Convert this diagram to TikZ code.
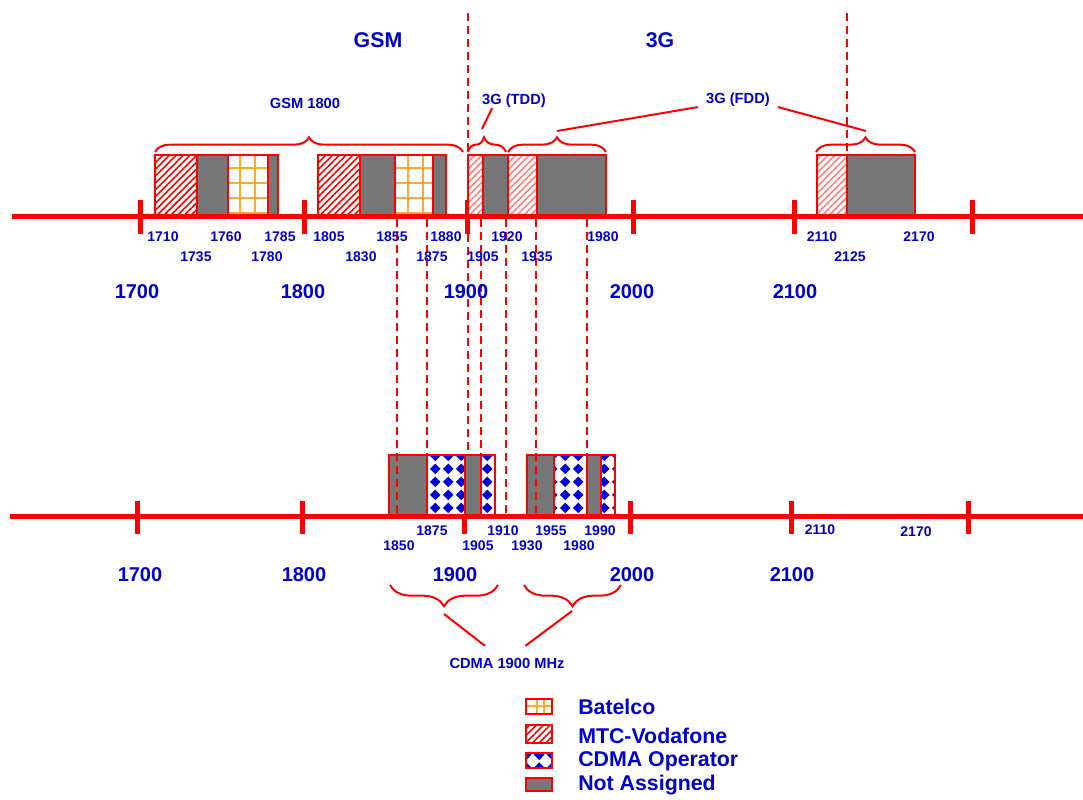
\documentclass[tikz,border=0pt]{standalone}
\usepackage{fontspec}
\setmainfont{Liberation Sans}
\usetikzlibrary{patterns,patterns.meta,decorations.pathreplacing}

\definecolor{labelblue}{RGB}{0,0,204}
\definecolor{bandgrey}{RGB}{119,119,119}
\definecolor{batelcoorange}{RGB}{255,170,40}
\definecolor{cdmablue}{RGB}{0,0,220}

\tikzdeclarepattern{
  name=cdmadiamonds,
  type=uncolored,
  bounding box={(0pt,0pt) and (9.75pt,9.75pt)},
  tile size={(9.75pt,9.75pt)},
  code={\fill (4.875pt,0.7pt) -- (9.05pt,4.875pt) -- (4.875pt,9.05pt) -- (0.7pt,4.875pt) -- cycle;}
}

\tikzset{
  bandline/.style={red, line width=3.75pt},
  tickline/.style={red, line width=3.75pt},
  boxline/.style={draw=red, line width=1.5pt},
  greybox/.style={boxline, fill=bandgrey},
  mtcbox/.style={boxline, preaction={fill=white},
    pattern={Lines[angle=45,distance=3.6pt,line width=1.2pt]}, pattern color=red},
  mtclight/.style={mtcbox, pattern color=red!50},
  cdmabox/.style={boxline, preaction={fill=white}, pattern=cdmadiamonds, pattern color=cdmablue},
  gridline/.style={batelcoorange, line width=1.5pt},
  cutline/.style={red, line width=1.4pt, dash pattern=on 6pt off 3.75pt},
  bandbrace/.style={red, line width=1.5pt, decorate, decoration={brace, amplitude=11pt}},
  leader/.style={red, line width=1.5pt},
  freqsmall/.style={text=labelblue, inner sep=0pt, font=\bfseries\fontsize{10.5}{12}\selectfont},
  freqbig/.style={text=labelblue, inner sep=0pt, font=\bfseries\fontsize{15}{18}\selectfont},
  header/.style={text=labelblue, inner sep=0pt, font=\bfseries\fontsize{16}{19}\selectfont},
  bandname/.style={text=labelblue, inner sep=0pt, font=\bfseries\fontsize{11}{13}\selectfont},
  legendtext/.style={text=labelblue, inner sep=0pt, anchor=west, font=\bfseries\fontsize{16}{19}\selectfont}
}

\begin{document}
\begin{tikzpicture}[x=0.75pt, y=-0.75pt]
  \useasboundingbox (0,0) rectangle (1083,800);

  % frequency axes
  \draw[bandline] (12,216) -- (1083,216);
  \draw[bandline] (10,516) -- (1083,516);
  \foreach \x in {140,304,467,633,794,972} \draw[tickline] (\x,200) -- (\x,234);
  \foreach \x in {137,302,464,630,791,968} \draw[tickline] (\x,501) -- (\x,534);

  % GSM 1800 band
  \draw[mtcbox] (155,155) rectangle (197,215);
  \draw[greybox] (197,155) rectangle (228,215);
  \fill[white] (228,155) rectangle (268,215);
  \foreach \x in {240,255} \draw[gridline] (\x,155) -- (\x,215);
  \foreach \y in {168,183,198,213} \draw[gridline] (228,\y) -- (268,\y);
  \draw[boxline] (228,155) rectangle (268,215);
  \draw[greybox] (268,155) rectangle (278,215);
  \draw[mtcbox] (318,155) rectangle (360,215);
  \draw[greybox] (360,155) rectangle (395,215);
  \fill[white] (395,155) rectangle (433,215);
  \foreach \x in {408,423} \draw[gridline] (\x,155) -- (\x,215);
  \foreach \y in {168,183,198,213} \draw[gridline] (395,\y) -- (433,\y);
  \draw[boxline] (395,155) rectangle (433,215);
  \draw[greybox] (433,155) rectangle (446,215);

  % 3G bands
  \draw[mtclight] (468,155) rectangle (483,215);
  \draw[greybox] (483,155) rectangle (508,215);
  \draw[mtclight] (508,155) rectangle (537,215);
  \draw[greybox] (537,155) rectangle (606,215);
  \draw[mtclight] (817,155) rectangle (847,215);
  \draw[greybox] (847,155) rectangle (915,215);

  % CDMA 1900 band
  \draw[greybox] (389,455) rectangle (427,515);
  \draw[cdmabox] (427,455) rectangle (465,515);
  \draw[greybox] (465,455) rectangle (481,515);
  \draw[cdmabox] (481,455) rectangle (495,515);
  \draw[greybox] (527,455) rectangle (554,515);
  \draw[cdmabox] (554,455) rectangle (587,515);
  \draw[greybox] (587,455) rectangle (601,515);
  \draw[cdmabox] (601,455) rectangle (615,515);

  % dashed guides
  \draw[cutline] (468,13) -- (468,455);
  \draw[cutline] (847,13) -- (847,155);
  \draw[cutline] (481,219) -- (481,455);
  \foreach \x in {397,427,506,536,587} \draw[cutline] (\x,219) -- (\x,516);

  % braces
  \draw[bandbrace] (155,152) -- (463,152);
  \draw[bandbrace, decoration={aspect=0.42}] (468,152) -- (506,152);
  \draw[bandbrace] (508,152) -- (606,152);
  \draw[bandbrace] (816,152) -- (915,152);
  \draw[bandbrace, decoration={amplitude=16pt}] (498,585) -- (390,585);
  \draw[bandbrace, decoration={amplitude=16pt}] (621,585) -- (524,585);
  \coordinate (tddtip) at (482,129);
  \coordinate (fddtipa) at (557,131);
  \coordinate (fddtipb) at (866,131);
  \coordinate (cdmatipa) at (444,614);
  \coordinate (cdmatipb) at (572,611);

  % titles
  \node[header] (gsm) at (378,40) {GSM};
  \node[header] (threeg) at (660,40) {3G};
  \node[bandname] (gsm1800) at (305,103) {GSM 1800};
  \node[bandname] (tdd) at (514,101) {3G (TDD)};
  \node[bandname, inner sep=6pt] (fdd) at (738,100) {3G (FDD)};
  \node[bandname, inner sep=8.8pt] (cdma) at (507,663) {CDMA 1900 MHz};
  \draw[leader] (tddtip) -- (tdd.198);
  \draw[leader] (fddtipa) -- (fdd.190);
  \draw[leader] (fddtipb) -- (fdd.-10);
  \draw[leader] (cdmatipa) -- (cdma.142);
  \draw[leader] (cdmatipb) -- (cdma.43);

  % frequency labels
  \foreach \x/\f in {163/1710,226/1760,280/1785,329/1805,392/1855,446/1880,507/1920,603/1980,822/2110,919/2170}
    \node[freqsmall] (top\f) at (\x,237) {\f};
  \foreach \x/\f in {196/1735,267/1780,361/1830,432/1875,483/1905,537/1935,850/2125}
    \node[freqsmall] (top\f) at (\x,257) {\f};
  \foreach \x/\f in {432/1875,503/1910,551/1955,600/1990}
    \node[freqsmall] (bot\f) at (\x,531) {\f};
  \foreach \x/\f in {399/1850,478/1905,527/1930,579/1980}
    \node[freqsmall] (bot\f) at (\x,546) {\f};
  \node[freqsmall] (bot2110) at (820,530) {2110};
  \node[freqsmall] (bot2170) at (916,532) {2170};
  \foreach \x/\f in {137/1700,303/1800,466/1900,632/2000,795/2100}
    \node[freqbig] (topbig\f) at (\x,292) {\f};
  \foreach \x/\f in {140/1700,304/1800,455/1900,632/2000,792/2100}
    \node[freqbig] (botbig\f) at (\x,575) {\f};

  % legend
  \fill[white] (526,699) rectangle (552,714);
  \foreach \x in {537,544} \draw[gridline] (\x,699) -- (\x,714);
  \draw[gridline] (526,706) -- (552,706);
  \draw[boxline] (526,699) rectangle (552,714);
  \draw[mtcbox] (526,725) rectangle (552,743);
  \draw[cdmabox] (526,753) rectangle (552,768);
  \draw[greybox] (526,778) rectangle (552,791);
  \node[legendtext] (legbatelco) at (578,707) {Batelco};
  \node[legendtext] (legmtc) at (578,736) {MTC-Vodafone};
  \node[legendtext] (legcdma) at (578,761) {CDMA Operator};
  \node[legendtext] (legfree) at (578,785) {Not Assigned};
\end{tikzpicture}
\end{document}
